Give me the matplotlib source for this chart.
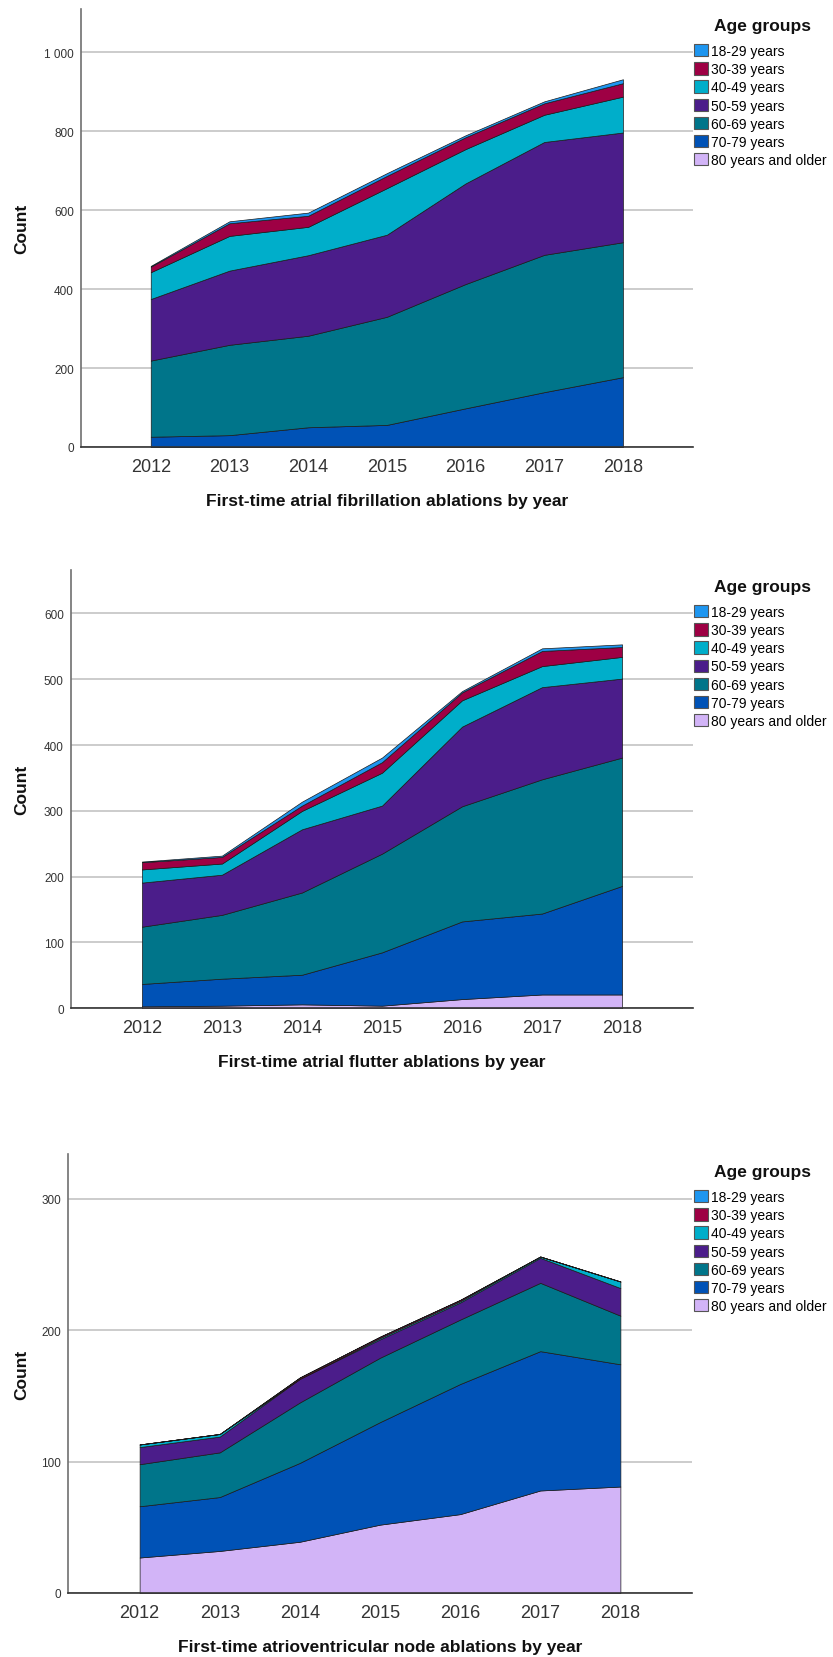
import matplotlib
matplotlib.use("Agg")
import matplotlib.pyplot as plt
from matplotlib.patches import Patch
from matplotlib.ticker import FuncFormatter

plt.rcParams['font.family'] = ['Liberation Sans', 'DejaVu Sans']

years = [2012, 2013, 2014, 2015, 2016, 2017, 2018]
age_groups = ['18-29 years', '30-39 years', '40-49 years', '50-59 years',
              '60-69 years', '70-79 years', '80 years and older']
group_colors = ['#1E96F0', '#9E0044', '#00AECA', '#4B1D8A',
                '#00758A', '#0052B6', '#D2B4F7']

# counts per age group, same order as age_groups
af_counts = [
    [2, 5, 8, 7, 5, 5, 10],
    [14, 32, 28, 31, 30, 29, 34],
    [68, 88, 72, 118, 87, 69, 91],
    [156, 188, 204, 208, 255, 286, 278],
    [193, 229, 232, 274, 315, 348, 342],
    [26, 30, 50, 55, 97, 138, 176],
    [0, 0, 0, 1, 1, 1, 1],
]
afl_counts = [
    [1, 2, 6, 7, 2, 4, 4],
    [11, 10, 8, 16, 12, 23, 15],
    [20, 17, 28, 50, 40, 32, 33],
    [67, 61, 96, 73, 121, 140, 120],
    [87, 97, 125, 150, 175, 204, 195],
    [34, 41, 45, 81, 118, 123, 165],
    [3, 4, 6, 4, 14, 21, 21],
]
avn_counts = [
    [0, 0, 0, 0, 0, 0, 0],
    [0, 0, 1, 1, 1, 0, 0],
    [2, 2, 0, 1, 1, 1, 5],
    [13, 12, 18, 14, 13, 19, 21],
    [32, 34, 46, 49, 49, 52, 37],
    [39, 41, 60, 78, 99, 106, 93],
    [27, 32, 39, 52, 60, 78, 81],
]

panels = [
    (af_counts, 'First-time atrial fibrillation ablations by year', 1110, 200),
    (afl_counts, 'First-time atrial flutter ablations by year', 666, 100),
    (avn_counts, 'First-time atrioventricular node ablations by year', 334, 100),
]

W, H = 833, 1658
fig = plt.figure(figsize=(W / 100, H / 100), dpi=100)

# axes boxes in pixels: left, right, top, bottom
boxes = [(80.7, 693, 10, 448), (70.7, 693.3, 571, 1009.3), (68.3, 691.7, 1155, 1594)]
# legend title centre and top of legend entries, in pixels from the top
legend_pos = [(26.7, 45), (587.7, 606), (1172, 1191)]

def thousands(v, pos):
    return f'{int(v):,}'.replace(',', ' ')

for (counts, xlabel, ytop, ystep), (l, r, t, b), (ty, ly) in zip(panels, boxes, legend_pos):
    ax = fig.add_axes([l / W, 1 - b / H, (r - l) / W, (b - t) / H])
    # stack from oldest group at the bottom
    ax.stackplot(years, counts[::-1], colors=group_colors[::-1],
                 edgecolor='#1a1a1a', linewidth=0.5)
    ax.set_xlim(2011.11, 2018.89)
    ax.set_ylim(0, ytop)
    ax.set_xticks(years)
    ax.set_yticks(range(0, ytop, ystep))
    ax.yaxis.set_major_formatter(FuncFormatter(thousands))
    ax.grid(axis='y', color='#c4c4c4', linewidth=1.2)
    ax.set_axisbelow(True)
    for s in ['top', 'right']:
        ax.spines[s].set_visible(False)
    ax.spines['left'].set_color('#707070')
    ax.spines['bottom'].set_color('#333333')
    ax.spines['left'].set_linewidth(1.2)
    ax.spines['bottom'].set_linewidth(1.2)
    ax.tick_params(axis='x', length=0, pad=8, labelsize=13, labelcolor='#333333')
    ax.tick_params(axis='y', length=0, pad=5, labelsize=8.5, labelcolor='#333333')
    ax.set_xlabel(xlabel, fontsize=12.5, fontweight='bold', color='#111111')
    ax.xaxis.set_label_coords(0.5, -0.105)
    ax.set_ylabel('Count', fontsize=12.5, fontweight='bold', color='#111111')
    ax.yaxis.set_label_coords(-(l - 29) / (r - l), 0.5)

    fig.text(762 / W, 1 - ty / H, 'Age groups', ha='center', va='center',
             fontsize=12.5, fontweight='bold', color='#111111')
    handles = [Patch(facecolor=c, edgecolor='#555555', linewidth=0.8) for c in group_colors]
    fig.legend(handles, age_groups, loc='upper left',
               bbox_to_anchor=(694 / W, 1 - ly / H), frameon=False,
               fontsize=10, handlelength=1.0, handleheight=1.0, handletextpad=0.25,
               labelspacing=0.3, borderpad=0, borderaxespad=0)

fig.savefig('out.png', dpi=100)
